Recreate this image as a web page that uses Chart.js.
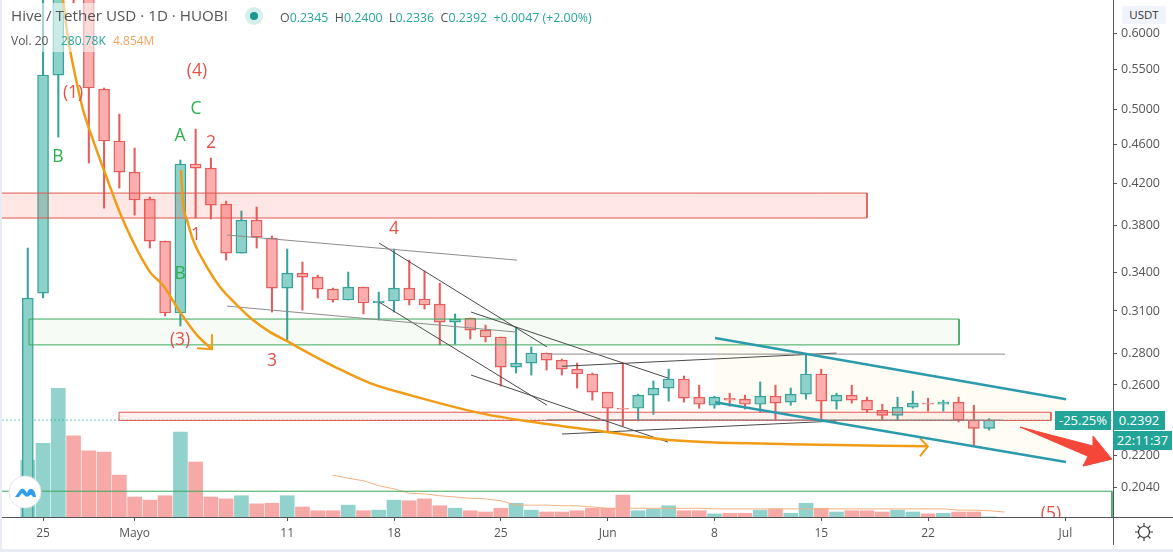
<!DOCTYPE html>
<html>
<head>
<meta charset="utf-8">
<script src="https://cdn.jsdelivr.net/npm/chart.js@4"></script>
<style>
  html, body { margin: 0; width: 1173px; height: 552px; overflow: hidden; background: #e9ebf5; font-family: "Open Sans", sans-serif; }
  canvas { position: absolute; left: 2px; top: 0; background: #fff; }
  .txt { position: absolute; white-space: nowrap; }
  .badge { position: absolute; background: #22a598; color: #fff; font-size: 13px; line-height: 19px; text-align: center; }
  .up { color: #26a69a; }
</style>
</head>
<body>
<canvas id="hiveChart" width="1171" height="549"></canvas>

<div class="txt" style="left:8px;top:3px;width:590px;height:27px;background:rgba(255,255,255,.55)"></div>
<div class="txt" style="left:8px;top:30px;width:150px;height:22px;background:rgba(255,255,255,.55)"></div>
<div class="txt" style="left:11px;top:5px;font-size:15.2px;color:#555">Hive / Tether USD · 1D · HUOBI</div>
<div class="txt" style="left:245px;top:7px;width:18px;height:18px;border-radius:50%;background:#d6efec"></div>
<div class="txt" style="left:250px;top:12px;width:8px;height:8px;border-radius:50%;background:#179a8c"></div>
<div class="txt" style="left:280px;top:9px;font-size:12.4px;color:#555">O<span class="up">0.2345</span>&nbsp; H<span class="up">0.2400</span>&nbsp; L<span class="up">0.2336</span>&nbsp; C<span class="up">0.2392</span>&nbsp; <span class="up">+0.0047 (+2.00%)</span></div>
<div class="txt" style="left:11px;top:32px;font-size:12px;color:#555">Vol. 20</div>
<div class="txt up" style="left:61px;top:32px;font-size:12px">280.78K</div>
<div class="txt" style="left:113px;top:32px;font-size:12px;color:#f2a45c">4.854M</div>

<div class="txt" style="left:1122px;top:6px;width:44px;height:18px;background:#f0f3fa;border-radius:3px;font-size:11.5px;line-height:18px;text-align:center;color:#333">USDT</div>
<div class="badge" style="left:1055px;top:411px;width:56px">-25.25%</div>
<div class="badge" style="left:1113px;top:411px;width:52px">0.2392</div>
<div class="badge" style="left:1113px;top:431px;width:59px">22:11:37</div>

<svg class="txt" style="left:8px;top:475px" width="34" height="34">
  <circle cx="17" cy="17" r="16" fill="#fff" stroke="#e6e6e6"/>
  <path d="M7 22 L12 15 Q14 12 17 15 L19 18 Q21 13 24 14 Q27 15 28 22 L25 22 Q23 18 21 21 Q18 23 16 20 L14 18 L11 22 Z" fill="#2f9df0"/>
</svg>
<svg class="txt" style="left:1134px;top:522px" width="20" height="20">
  <circle cx="10" cy="10" r="5.5" fill="none" stroke="#333" stroke-width="1.2"/>
  <path d="M10 1V4M10 16V19M1 10H4M16 10H19M3.6 3.6L5.8 5.8M14.2 14.2L16.4 16.4M3.6 16.4L5.8 14.2M14.2 5.8L16.4 3.6" stroke="#333" stroke-width="1.2"/>
</svg>

<script>
// Daily candles, first one is 24 Apr (day -1), day 0 = 25 Apr
const opens = [0.185,0.3234,0.5430,0.80,0.72,0.5252,0.4642,0.4312,0.4044,0.3660,0.3085,0.4395,0.4353,0.3996,0.3557,0.3847,
  0.3686,0.3273,0.3392,0.3360,0.3265,0.3182,0.3281,0.3159,0.3174,0.3273,0.3189,0.3151,0.3019,0.3048,0.2962,0.2914,
  0.2713,0.2739,0.2805,0.2758,0.2700,0.2669,0.2556,0.2460,0.2460,0.2538,0.2581,0.2637,0.2526,0.2478,0.2520,0.2514,
  0.2484,0.2532,0.2496,0.2544,0.2669,0.2502,0.2538,0.2508,0.2449,0.2419,0.2466,0.2490,0.2484,0.2496,0.2392,0.2345];
const highs = [0.3600,0.66,0.76,0.84,0.75,0.5265,0.4949,0.4565,0.4064,0.3660,0.4437,0.4776,0.4458,0.4025,0.3931,0.3968,
  0.3704,0.3591,0.3482,0.3376,0.3273,0.3400,0.3281,0.3242,0.3591,0.3498,0.3408,0.3312,0.3078,0.3048,0.2998,0.2914,
  0.2984,0.2846,0.2805,0.2765,0.2739,0.2675,0.2556,0.2739,0.2544,0.2625,0.2700,0.2656,0.2599,0.2532,0.2550,0.2538,
  0.2619,0.2599,0.2581,0.2798,0.2700,0.2550,0.2599,0.2526,0.2484,0.2526,0.2562,0.2520,0.2508,0.2526,0.2478,0.2400];
const lows = [0.18,0.3197,0.4686,0.6443,0.4406,0.3958,0.4151,0.3893,0.3600,0.3063,0.2991,0.3866,0.3857,0.3498,0.3557,0.3600,
  0.3092,0.2893,0.3106,0.3197,0.3166,0.3182,0.3078,0.3034,0.3092,0.3144,0.3114,0.2860,0.2866,0.2900,0.2880,0.2593,
  0.2675,0.2662,0.2694,0.2662,0.2581,0.2508,0.2325,0.2358,0.2387,0.2425,0.2502,0.2496,0.2460,0.2460,0.2472,0.2455,
  0.2437,0.2392,0.2478,0.2514,0.2396,0.2455,0.2490,0.2437,0.2392,0.2392,0.2460,0.2443,0.2443,0.2381,0.2254,0.2336];
const closes = [0.3196,0.5430,0.80,0.72,0.5265,0.4642,0.4312,0.4035,0.3660,0.3085,0.4395,0.4353,0.3986,0.3557,0.3847,0.3695,
  0.3273,0.3392,0.3360,0.3265,0.3182,0.3281,0.3159,0.3174,0.3273,0.3182,0.3144,0.3019,0.3041,0.2962,0.2914,0.2713,
  0.2739,0.2805,0.2758,0.2700,0.2669,0.2556,0.2460,0.2455,0.2538,0.2581,0.2637,0.2520,0.2484,0.2526,0.2508,0.2484,
  0.2532,0.2490,0.2544,0.2669,0.2502,0.2538,0.2508,0.2449,0.2419,0.2466,0.2490,0.2484,0.2496,0.2392,0.2345,0.2392];

// Volume in millions
const volumes = [91,118,206,130,106,104,67,32,27,34,136,88,32,29,34,21,22,34,16,10,10,19,10,11,27,26,29,18,14,10,8,14,
  22,11,8,8,10,14,14,35,10,13,18,10,10,5,6,6,11,13,6,22,14,8,10,10,8,11,8,5,6,8,8,0.28];
// Vol MA 20, starts on day 18
const volumeMa = [67,62,58,50,45,38,37,34,32,30,29,26,19,19,19,18,18,16,14,14,14,14,14,14,14,13,13,13,13,13,13,13,13,13,13,13,13,13,13,13,13,11,11,10,8];

const dayTicks = [0,6,16,23,30,37,44,51,58,67];
const dayTickLabels = ["25","Mayo","11","18","25","Jun","8","15","22","Jul"];
const priceTicks = [0.6,0.55,0.5,0.46,0.42,0.38,0.34,0.31,0.28,0.26,0.22,0.204];

// Hand drawn things on the chart, as [day, price]
const topRedZone = [[-2.69,0.4102],[54.0,0.4102],[54.0,0.3866],[-2.69,0.3866]];
const greenZone = [[-0.92,0.3041],[60.03,0.3041],[60.03,0.2860],[-0.92,0.2860],[-0.92,0.3041]];
const lowRedZone = [[4.98,0.2437],[66.05,0.2437],[66.05,0.2390],[4.98,0.2390],[4.98,0.2437]];
const bottomGreenZone = [[-2.69,0.2020],[70.05,0.2020],[70.05,0.185]];
const lastPrice = [[-2.69,0.2392],[70.12,0.2392]];

const channelTop = [[44.04,0.2907],[67.04,0.2514]];
const channelBottom = [[44.04,0.2496],[67.04,0.2165]];
const channelArea = [[44.04,0.2907],[67.04,0.2514],[67.04,0.2165],[44.04,0.2496],[44.04,0.2907]];

const grayLines = [
  [[12.06,0.3713],[31.06,0.3498]],
  [[12.06,0.3136],[31.06,0.2948]],
  [[33.03,0.2798],[63.04,0.2798]],
  [[33.03,0.2394],[62.9,0.2392]]
];
const darkLines = [
  [[22.02,0.3643],[33.03,0.2846]],
  [[22.02,0.3166],[33.03,0.2478]],
  [[28.05,0.3092],[40.96,0.2643]],
  [[28.05,0.2662],[40.96,0.2270]],
  [[34.01,0.2718],[52.0,0.2805]],
  [[34.01,0.2314],[52.0,0.2387]]
];

const fastCurve = [[1.31,0.649],[1.64,0.5922],[2.10,0.5430],[2.62,0.5000],[3.21,0.4686],[4.06,0.4302],[5.24,0.3847],[7.01,0.3400],[7.86,0.3296],[8.98,0.3092],[10.09,0.2927],[11.07,0.2831]];
const fastArrowHead = [[10.09,0.2838],[11.07,0.2831],[11.07,0.2934]];
const slowCurve = [[9.04,0.4333],[9.17,0.4006],[9.44,0.3847],[9.83,0.3669],[10.48,0.3498],[11.6,0.3281],[12.71,0.3144],[13.76,0.3034],[14.88,0.2948],[15.98,0.2887],[17.04,0.2825],[19.27,0.2707],[21.43,0.2612],[24.05,0.2538],[28.64,0.2432],[32.11,0.2381],[36.96,0.2325],[41.28,0.2280],[48.95,0.2259],[57.99,0.2248]];
const slowArrowHead = [[57.47,0.2291],[57.99,0.2248],[57.47,0.2195]];
const redArrow = [[64.02,0.2353],[68.87,0.2248],[68.81,0.2303],[70.05,0.2180],[68.15,0.2144],[68.48,0.2195],[64.02,0.2353]];

const waveLabels = ["(4)","C","A","2","(1)","B","1","B","(3)","3","4","(5)"];
const waveDays = [10.09,10.03,8.98,11.01,1.97,0.98,10.03,8.98,8.98,15.01,23.0,66.05];
const wavePrices = [0.5482,0.5009,0.4697,0.4620,0.5203,0.4469,0.3713,0.3384,0.2893,0.2752,0.3766,0.1915];
const waveIsGreen = [false,true,true,false,false,true,false,true,false,false,false,false];

const GREEN = "#38a39a", RED = "#e65c5c";
const isUp = opens.map((o, i) => closes[i] >= o);
const dayOf = i => i - 1;

function lineDs(points, color, width, extra) {
  return Object.assign({
    type: "line",
    data: points.map(p => ({ x: p[0], y: p[1] })),
    borderColor: color,
    borderWidth: width,
    pointRadius: 0,
    tension: 0,
    fill: false,
    yAxisID: "y",
    order: 1
  }, extra || {});
}

const datasets = [
  {
    label: "Volume",
    data: volumes.map((v, i) => ({ x: dayOf(i), y: v })),
    backgroundColor: isUp.map(u => u ? "rgba(38,166,154,.5)" : "rgba(239,83,80,.5)"),
    barThickness: 14,
    yAxisID: "vol",
    order: 6
  },
  {
    type: "line",
    label: "Vol MA",
    data: volumeMa.map((v, i) => ({ x: dayOf(i + 20), y: v })),
    borderColor: "#f4b183",
    borderWidth: 1,
    pointRadius: 0,
    yAxisID: "vol",
    order: 5
  },
  {
    label: "Wicks",
    data: lows.map((l, i) => ({ x: dayOf(i), y: [l, highs[i]] })),
    backgroundColor: isUp.map(u => u ? GREEN : RED),
    barThickness: 1.4,
    yAxisID: "y",
    order: 4
  },
  {
    label: "Bodies",
    data: opens.map((o, i) => ({ x: dayOf(i), y: [o, closes[i]] })),
    backgroundColor: isUp.map(u => u ? "#8dd2ca" : "#fbaeae"),
    borderColor: isUp.map(u => u ? GREEN : RED),
    borderWidth: 1.4,
    borderSkipped: false,
    barThickness: 11,
    yAxisID: "y",
    order: 3
  },
  lineDs(channelArea, "rgba(0,0,0,0)", 0, { fill: "shape", backgroundColor: "rgba(255,236,160,.13)", order: 7 }),
  lineDs(topRedZone, "#e0574f", 1, { fill: "shape", backgroundColor: "rgba(244,67,54,.13)", order: 2 }),
  lineDs(greenZone, "#3aa85c", 1, { fill: "shape", backgroundColor: "rgba(76,175,80,.05)", order: 2 }),
  lineDs(lowRedZone, "#e0574f", 1, { fill: "shape", backgroundColor: "rgba(244,67,54,.07)", order: 2 }),
  lineDs(bottomGreenZone, "#3aa85c", 1),
  lineDs(lastPrice, "#6cc5bb", 1, { borderDash: [2, 2], order: 8 }),
  lineDs(channelTop, "#2b9bab", 2.5),
  lineDs(channelBottom, "#2b9bab", 2.5),
  lineDs(slowCurve, "#f09c16", 2.5, { cubicInterpolationMode: "monotone" }),
  lineDs(slowArrowHead, "#f09c16", 2),
  lineDs(fastCurve, "#f09c16", 2.5, { cubicInterpolationMode: "monotone" }),
  lineDs(fastArrowHead, "#f09c16", 2),
  lineDs(redArrow, "#f4473a", 1, { fill: "shape", backgroundColor: "#f4473a", order: 0 })
];
grayLines.forEach(l => datasets.push(lineDs(l, "#8c8c8c", 1)));
darkLines.forEach(l => datasets.push(lineDs(l, "#4a4a4a", 1)));

// wave counts and the axis lines that run past the plot corner
const extras = {
  id: "extras",
  afterDatasetsDraw(chart) {
    const { ctx, chartArea, scales } = chart;
    ctx.save();
    ctx.beginPath();
    ctx.rect(chartArea.left, chartArea.top, chartArea.width, chartArea.height);
    ctx.clip();
    ctx.font = '17.5px "Open Sans"';
    ctx.textAlign = "center";
    ctx.textBaseline = "middle";
    waveLabels.forEach((t, i) => {
      ctx.fillStyle = waveIsGreen[i] ? "#2fae4e" : "#e2524a";
      ctx.fillText(t, scales.x.getPixelForValue(waveDays[i]), scales.y.getPixelForValue(wavePrices[i]));
    });
    ctx.restore();
  },
  afterDraw(chart) {
    const { ctx, chartArea, width, height } = chart;
    ctx.save();
    ctx.strokeStyle = "#555";
    ctx.lineWidth = 1;
    ctx.beginPath();
    ctx.moveTo(chartArea.right, chartArea.bottom + 0.5);
    ctx.lineTo(width, chartArea.bottom + 0.5);
    ctx.moveTo(chartArea.right + 0.5, chartArea.bottom);
    ctx.lineTo(chartArea.right + 0.5, height - 4);
    ctx.stroke();
    ctx.restore();
  }
};

// the plot runs edge to edge, so drop the half label padding Chart.js adds
function noPadding(s) {
  s.paddingTop = 0;
  s.paddingBottom = 0;
  s.paddingLeft = 0;
  s.paddingRight = 0;
}

new Chart(document.getElementById("hiveChart").getContext("2d"), {
  type: "bar",
  data: { datasets: datasets },
  plugins: [extras],
  options: {
    responsive: false,
    animation: false,
    layout: { padding: 0 },
    datasets: { bar: { grouped: false } },
    plugins: { legend: { display: false }, tooltip: { enabled: false } },
    scales: {
      x: {
        type: "linear",
        offset: false,
        min: -2.69,
        max: 70.12,
        afterFit(s) { s.height = 32; noPadding(s); },
        afterBuildTicks(s) { s.ticks = dayTicks.map(v => ({ value: v })); },
        grid: { drawOnChartArea: false, tickLength: 4, tickColor: "#555", offset: false },
        border: { color: "#555" },
        ticks: {
          autoSkip: false,
          maxRotation: 0,
          padding: 5,
          color: "#555",
          font: { family: "Open Sans", size: 12 },
          callback: v => dayTickLabels[dayTicks.indexOf(v)]
        }
      },
      y: {
        type: "logarithmic",
        position: "right",
        bounds: "data",
        min: 0.19,
        max: 0.649,
        afterFit(s) { s.width = 60; noPadding(s); },
        afterBuildTicks(s) { s.ticks = priceTicks.map(v => ({ value: v })); },
        grid: { drawOnChartArea: false, tickLength: 4, tickColor: "#555" },
        border: { color: "#555" },
        ticks: {
          autoSkip: false,
          padding: 4,
          color: "#555",
          font: { family: "Open Sans", size: 12.5 },
          callback: v => v.toFixed(4)
        }
      },
      vol: { type: "linear", display: false, min: 0, max: 827.2 }
    }
  }
});
</script>
</body>
</html>
